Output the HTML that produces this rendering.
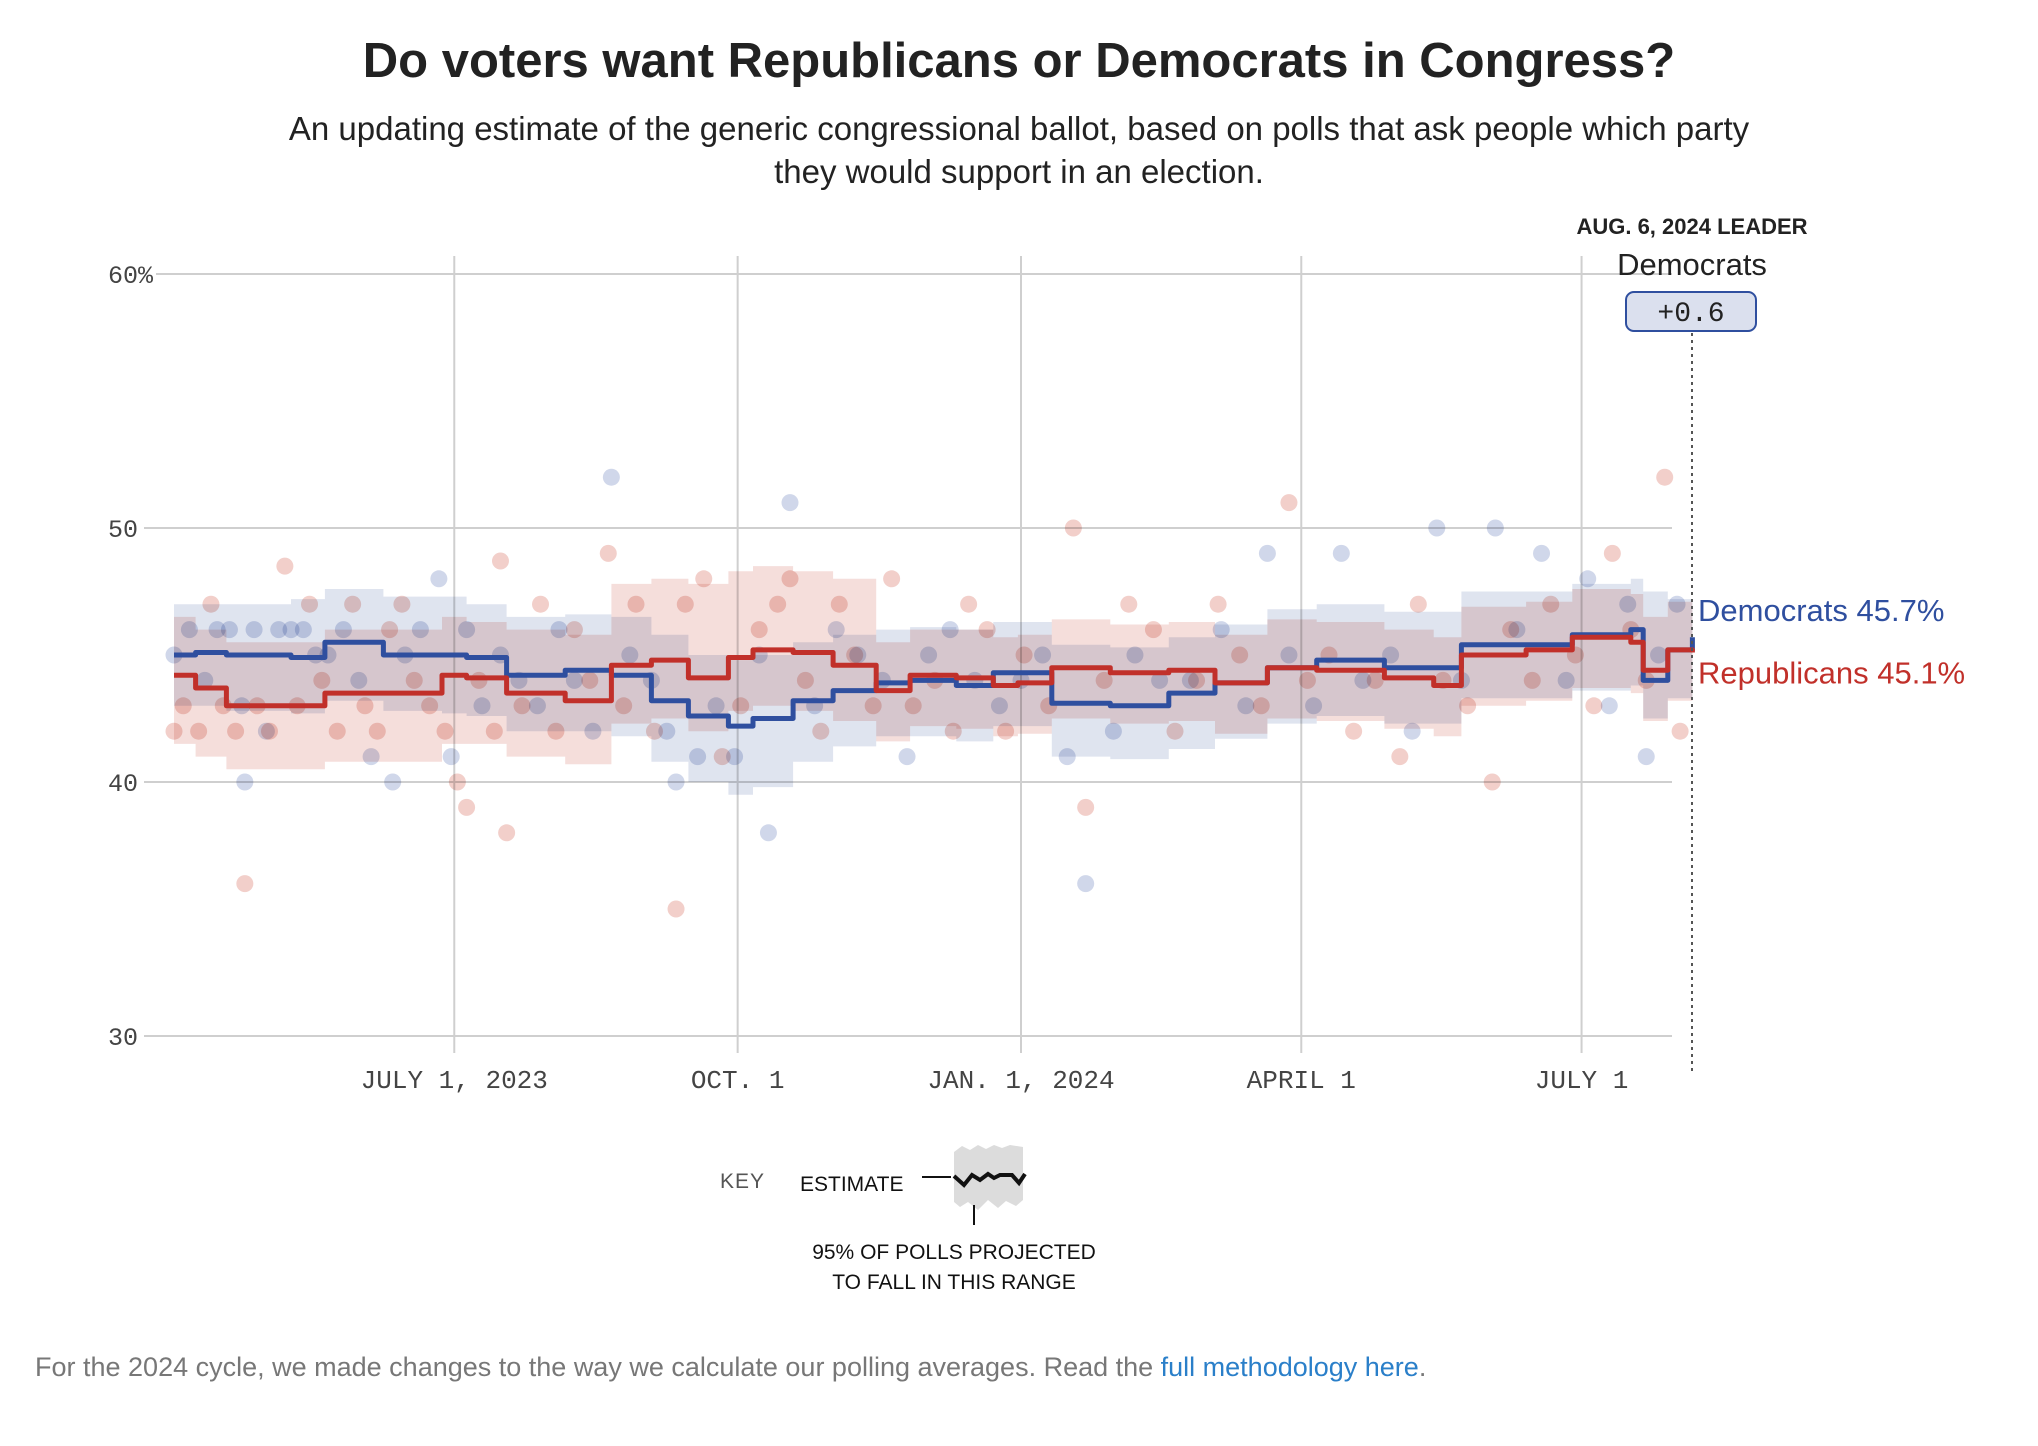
<!DOCTYPE html>
<html><head><meta charset="utf-8">
<style>
html,body{margin:0;padding:0;background:#fff;}
body{width:2038px;height:1446px;position:relative;overflow:hidden;font-family:"Liberation Sans",sans-serif;}
.t{position:absolute;white-space:nowrap;}
</style></head>
<body>
<div class="t" style="left:0;width:2038px;text-align:center;top:33px;font-size:49px;font-weight:bold;color:#222;">Do voters want Republicans or Democrats in Congress?</div>
<div class="t" style="left:0;width:2038px;text-align:center;top:107px;font-size:33px;line-height:43px;color:#222;">An updating estimate of the generic congressional ballot, based on polls that ask people which party<br>they would support in an election.</div>
<svg id="chart" width="2038" height="1446" style="position:absolute;left:0;top:0;"></svg>
<div class="t" style="left:35px;top:1352px;font-size:27px;color:#777;">For the 2024 cycle, we made changes to the way we calculate our polling averages. Read the <a style="color:#2a7fc9;text-decoration:none;">full methodology here</a>.</div>
<script>
const days=[0,7,17,38,49,68,87,95,108,127,142,155,167,180,188,201,214,228,239,254,266,274,285,304,323,338,355,371,393,409,418,439,454,473,477,485,493];
const dem=[45.0,45.1,45.0,44.9,45.5,45.0,45.0,44.9,44.2,44.4,44.2,43.2,42.6,42.2,42.5,43.2,43.6,43.9,44.0,43.8,44.3,44.3,43.1,43.0,43.5,43.9,44.5,44.8,44.5,44.5,45.4,45.4,45.8,46.0,44.0,45.2,45.7];
const rep=[44.2,43.7,43.0,43.0,43.5,43.5,44.2,44.1,43.5,43.2,44.6,44.8,44.1,44.9,45.2,45.1,44.6,43.6,44.2,44.1,43.8,43.9,44.5,44.3,44.4,43.9,44.5,44.4,44.1,43.8,45.0,45.2,45.7,45.5,44.4,45.2,45.1];
const demHi=[47.0,47.0,47.0,47.2,47.6,47.3,47.3,47.0,46.5,46.6,46.5,45.8,45.0,44.8,45.0,45.5,45.8,46.0,46.1,46.0,46.3,46.3,45.4,45.3,45.7,46.2,46.8,47.0,46.7,46.7,47.5,47.5,47.8,48.0,47.5,47.2,47.8];
const demLo=[43.0,43.0,42.8,42.7,43.2,42.8,42.7,42.6,42.0,42.0,41.8,40.8,40.0,39.5,39.8,40.8,41.4,41.8,41.8,41.6,42.2,42.2,41.0,40.9,41.3,41.7,42.3,42.6,42.3,42.3,43.3,43.3,43.6,43.8,42.5,43.3,43.6];
const repHi=[46.5,46.0,45.5,45.5,46.0,46.0,46.5,46.3,46.0,45.8,47.8,48.0,47.8,48.3,48.5,48.3,48.0,45.5,46.0,46.0,45.7,45.8,46.4,46.2,46.3,45.8,46.4,46.3,46.0,45.7,46.9,47.1,47.6,47.4,46.5,47.1,47.0];
const repLo=[41.5,41.0,40.5,40.5,40.8,40.8,41.5,41.5,41.0,40.7,42.3,42.5,42.0,42.8,43.0,42.8,42.4,41.6,42.2,42.1,41.8,41.9,42.5,42.3,42.4,41.9,42.5,42.4,42.1,41.8,43.0,43.2,43.7,43.5,42.4,43.2,43.1];
const demPollDays=[0,5,10,14,18,22,23,26,30,34,38,42,46,50,55,60,64,71,75,80,86,90,95,100,106,112,118,125,130,136,142,148,155,160,163,170,176,182,190,193,200,208,215,222,230,238,245,252,260,268,275,282,290,296,305,312,320,330,340,348,355,362,370,379,386,395,402,410,418,429,436,444,452,459,466,472,478,482,488];
const demPollVals=[45,46,44,46,46,43,40,46,42,46,46,46,45,45,46,44,41,40,45,46,48,41,46,43,45,44,43,46,44,42,52,45,44,42,40,41,43,41,45,38,51,43,46,45,44,41,45,46,44,43,44,45,41,36,42,45,44,44,46,43,49,45,43,49,44,45,42,50,44,50,46,49,44,48,43,47,41,45,47];
const repPollDays=[0,3,8,12,16,20,23,27,31,36,40,44,48,53,58,62,66,70,74,78,83,88,92,95,99,104,106,108,113,119,124,130,135,141,146,150,156,163,166,172,178,184,190,196,200,205,210,216,221,227,233,240,247,253,258,264,270,276,284,292,296,302,310,318,325,332,339,346,353,362,368,375,383,390,398,404,412,420,428,434,441,447,455,461,467,473,478,484,489];
const repPollVals=[42,43,42,47,43,42,36,43,42,48.5,43,47,44,42,47,43,42,46,47,44,43,42,40,39,44,42,48.7,38,43,47,42,46,44,49,43,47,42,35,47,48,41,43,46,47,48,44,42,47,45,43,48,43,44,42,47,46,42,45,43,50,39,44,47,46,42,44,47,45,43,51,44,45,42,44,41,47,44,43,40,46,44,47,45,43,49,46,44,52,42];
const yTicks=[30,40,50,60];
const yTickLabels=["30","40","50","60%"];
const xTickDays=[91,183,275,366,457];
const xTickLabels=["JULY 1, 2023","OCT. 1","JAN. 1, 2024","APRIL 1","JULY 1"];

const NS="http://www.w3.org/2000/svg";
const svg=document.getElementById('chart');
const X=d=>174+d*3.08;
const Y=v=>1036-(v-30)*25.4;
function el(tag,attrs,parent){const e=document.createElementNS(NS,tag);for(const k in attrs)e.setAttribute(k,attrs[k]);(parent||svg).appendChild(e);return e;}

yTicks.forEach((v,i)=>{
  const g=el('line',{x1:i==3?156:144,x2:1672,y1:Y(v),y2:Y(v),stroke:'#cfcfcf','stroke-width':2});
  
  
  const t=el('text',{x:108,y:Y(v)+9,'font-family':'Liberation Mono, monospace','font-size':25,fill:'#444'});
  t.textContent=yTickLabels[i];
  
  
});
xTickDays.forEach((d,i)=>{
  const g=el('line',{x1:X(d),x2:X(d),y1:256,y2:1053,stroke:'#cfcfcf','stroke-width':2});
  
  
  const t=el('text',{x:X(d),y:1088,'text-anchor':'middle','font-family':'Liberation Mono, monospace','font-size':26,fill:'#444'});
  t.textContent=xTickLabels[i];
  
  
});

function stepPts(arr){let p=[];for(let i=0;i<days.length;i++){if(i>0)p.push([X(days[i]),Y(arr[i-1])]);p.push([X(days[i]),Y(arr[i])]);}return p;}
function band(hi,lo,fill,name){
  const a=stepPts(hi),b=stepPts(lo).reverse();
  const d='M'+a.concat(b).map(p=>p[0].toFixed(1)+','+p[1].toFixed(1)).join('L')+'Z';
  const e=el('path',{d:d,fill:fill,style:'mix-blend-mode:multiply'});
  
  
}
band(demHi,demLo,'#dfe4ef','dem-band');
band(repHi,repLo,'#f5dedb','rep-band');

function dots(ds,vs,fill,name){
  ds.forEach((d,i)=>{
    const c=el('circle',{cx:X(d),cy:Y(vs[i]),r:8.5,fill:fill,'fill-opacity':0.55,style:'mix-blend-mode:multiply'});
    
    
  });
}
dots(demPollDays,demPollVals,'#a9b6d8','dem-poll-dot');
dots(repPollDays,repPollVals,'#e8a79e','rep-poll-dot');

function line(arr,color,name){
  const d='M'+stepPts(arr).map(p=>p[0].toFixed(1)+','+p[1].toFixed(1)).join('L');
  const e=el('path',{d:d,fill:'none',stroke:color,'stroke-width':5,'stroke-linejoin':'round'});
  
  
}
line(dem,'#2f4f9f','dem-line');
line(rep,'#c1302a','rep-line');

const dl=el('line',{x1:1692,x2:1692,y1:312,y2:1072,stroke:'#555','stroke-width':2,'stroke-dasharray':'3,4'});


const lastD=dem[dem.length-1],lastR=rep[rep.length-1];
const t1=el('text',{x:1698,y:Y(lastD)-16,'font-size':31,fill:'#2f4f9f','font-family':'Liberation Sans, sans-serif'});
t1.textContent='Democrats '+lastD.toFixed(1)+'%';


const t2=el('text',{x:1698,y:Y(lastR)+31,'font-size':31,fill:'#c1302a','font-family':'Liberation Sans, sans-serif'});
t2.textContent='Republicans '+lastR.toFixed(1)+'%';


const lh=el('text',{x:1692,y:234,'text-anchor':'middle','font-size':22,'font-weight':'bold',fill:'#222','font-family':'Liberation Sans, sans-serif'});
lh.textContent='AUG. 6, 2024 LEADER';


const ln=el('text',{x:1692,y:275,'text-anchor':'middle','font-size':31,fill:'#222','font-family':'Liberation Sans, sans-serif'});
ln.textContent='Democrats';


const bx=el('rect',{x:1626,y:292,width:130,height:39,rx:8,fill:'#dbe0ee',stroke:'#2f4f9f','stroke-width':2});


const bt=el('text',{x:1691,y:321,'text-anchor':'middle','font-size':28,fill:'#222','font-family':'Liberation Mono, monospace'});
bt.textContent='+'+(lastD-lastR).toFixed(1);



const k=el('g',{});


const kt=el('text',{x:720,y:1188,'font-size':21,fill:'#555','font-family':'Liberation Sans, sans-serif','letter-spacing':1},k);kt.textContent='KEY';
const ke=el('text',{x:800,y:1191,'font-size':21,fill:'#111','font-family':'Liberation Sans, sans-serif'},k);ke.textContent='ESTIMATE';
el('path',{d:'M954,1152 L962,1146 L970,1150 L978,1145 L986,1149 L994,1145 L1002,1148 L1010,1145 L1023,1147 L1023,1200 L1016,1206 L1006,1201 L998,1208 L988,1200 L978,1210 L968,1202 L960,1207 L954,1202 Z',fill:'#dcdcdc'},k);
el('line',{x1:922,x2:951,y1:1177,y2:1177,stroke:'#111','stroke-width':2},k);
el('path',{d:'M954,1176 L964,1185 L972,1175 L980,1180 L988,1174 L994,1178 L1000,1175 L1012,1175 L1019,1183 L1025,1174',fill:'none',stroke:'#111','stroke-width':4},k);
el('line',{x1:974,x2:974,y1:1205,y2:1225,stroke:'#111','stroke-width':2},k);
const k1=el('text',{x:954,y:1259,'text-anchor':'middle','font-size':21,fill:'#111','font-family':'Liberation Sans, sans-serif'},k);k1.textContent='95% OF POLLS PROJECTED';
const k2=el('text',{x:954,y:1289,'text-anchor':'middle','font-size':21,fill:'#111','font-family':'Liberation Sans, sans-serif'},k);k2.textContent='TO FALL IN THIS RANGE';
</script>
</body></html>
